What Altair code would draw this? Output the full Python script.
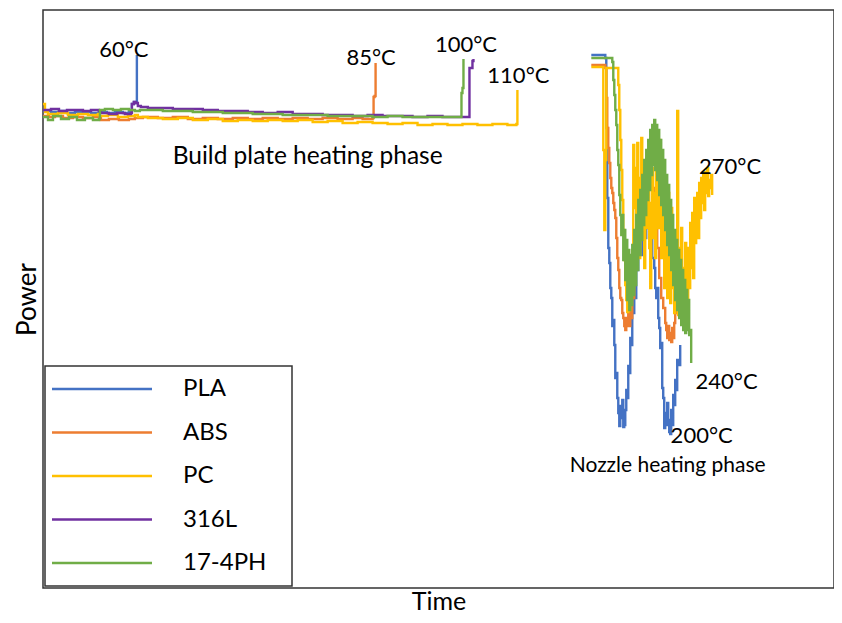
import altair as alt
import pandas as pd

SERIES = ["PLA", "ABS", "PC", "316L", "17-4PH"]
COLORS = ["#4472C4", "#ED7D31", "#FFC000", "#7030A0", "#70AD47"]

# (time, power) readings, build plate phase
PLA_BUILD = [(0, 477), (8, 476), (16, 477), (24, 475), (32, 476), (40, 476), (48, 475), (56, 476),
             (64, 475), (72, 476), (80, 475), (86, 476), (89, 484), (91, 486), (93, 485), (94, 485), (94, 533)]
ABS_BUILD = [(0, 472), (6, 471), (12, 472), (20, 470), (30, 471), (40, 470), (50, 471), (57, 470), (58, 468),
             (66, 469), (76, 468), (86, 469), (92, 470), (100, 471), (115, 470), (130, 471), (145, 469),
             (160, 470), (175, 469), (190, 470), (205, 469), (220, 470), (235, 469), (250, 470), (265, 469),
             (280, 470), (295, 469), (310, 470), (320, 469), (330, 470), (331, 491), (332, 492), (333, 525)]
PC_BUILD = [(0, 484), (2, 476), (5, 474), (15, 475), (25, 473), (35, 474), (45, 473), (55, 474), (57, 472),
            (65, 473), (75, 471), (85, 472), (92, 473), (95, 471), (105, 470), (120, 469), (135, 470),
            (150, 468), (165, 469), (180, 467), (195, 468), (210, 467), (225, 468), (240, 467), (255, 468),
            (270, 466), (285, 467), (300, 465), (315, 466), (330, 465), (345, 464), (360, 465), (375, 463),
            (390, 464), (405, 463), (420, 464), (435, 463), (450, 464), (465, 463), (474, 464), (475, 498)]
S316L_BUILD = [(0, 478), (8, 479), (16, 477), (24, 478), (32, 478), (40, 477), (48, 478), (56, 477), (58, 475),
               (66, 474), (74, 475), (82, 474), (88, 475), (89, 484), (91, 486), (93, 485), (95, 482), (98, 481),
               (105, 480), (115, 480), (130, 479), (145, 479), (160, 478), (175, 477), (190, 477), (205, 476),
               (220, 475), (235, 476), (250, 474), (265, 474), (280, 473), (295, 473), (310, 472), (325, 473),
               (340, 472), (355, 472), (370, 471), (385, 472), (400, 471), (410, 471), (419, 471), (427, 471),
               (427, 520), (430, 527), (431, 529)]
PH_BUILD = [(0, 471), (5, 468), (10, 472), (18, 469), (26, 471), (34, 468), (42, 470), (50, 468), (56, 469),
            (57, 478), (62, 479), (70, 478), (78, 479), (86, 478), (92, 477), (97, 478), (105, 478), (120, 477),
            (135, 477), (150, 476), (165, 476), (180, 475), (195, 475), (210, 474), (225, 474), (240, 473),
            (255, 473), (270, 473), (285, 472), (300, 472), (315, 472), (330, 471), (345, 472), (360, 471),
            (375, 471), (390, 471), (405, 471), (418, 471), (419, 495), (420, 500), (421, 529)]

# (time, power) readings, nozzle phase
PLA_NOZZLE = [(549, 533), (562, 533), (563, 530), (564, 460), (565, 390), (566, 340), (567, 325), (568, 300),
              (569, 290), (570, 262), (571, 268), (572, 243), (573, 210), (574, 215), (575, 190), (576, 175),
              (577, 162), (578, 182), (579, 170), (580, 188), (581, 161), (582, 163), (583, 178), (584, 198),
              (585, 190), (586, 222), (587, 215), (588, 250), (589, 243), (590, 275), (592, 290), (594, 318),
              (596, 338), (598, 333), (600, 356), (602, 350), (604, 366), (606, 360), (608, 348), (610, 330),
              (612, 320), (613, 300), (614, 290), (615, 300), (616, 270), (617, 260), (618, 240), (619, 245),
              (620, 200), (621, 190), (622, 160), (623, 175), (624, 163), (625, 185), (626, 168), (627, 156),
              (628, 154), (629, 178), (630, 163), (631, 193), (632, 183), (633, 208), (634, 198), (635, 228),
              (637, 223), (638, 243)]
ABS_NOZZLE = [(549, 523), (562, 523), (563, 520), (564, 490), (565, 460), (566, 440), (567, 425), (568, 410),
              (569, 400), (570, 395), (571, 385), (572, 378), (573, 370), (574, 350), (575, 330), (576, 318),
              (577, 300), (578, 290), (579, 288), (580, 275), (581, 270), (582, 262), (583, 258), (584, 270),
              (585, 262), (586, 275), (587, 262), (588, 280), (589, 270), (590, 290), (592, 320), (594, 345),
              (597, 370), (600, 395), (604, 410), (608, 400), (612, 370), (615, 340), (617, 310), (619, 290),
              (621, 280), (623, 265), (624, 258), (625, 250), (626, 262), (627, 248), (628, 255), (629, 246),
              (630, 260), (631, 250), (632, 265), (633, 275), (634, 290)]
PC_NOZZLE = [(549, 521), (560, 521), (561, 438), (562, 358), (563, 428), (564, 520), (575, 520), (576, 503),
             (577, 478), (578, 448), (579, 418), (580, 388), (581, 358), (582, 328), (583, 303), (584, 288),
             (585, 276), (586, 293), (587, 278), (588, 308), (589, 293), (590, 338), (591, 443), (592, 380),
             (593, 420), (594, 352), (595, 445), (596, 400), (597, 330), (598, 410), (599, 450), (600, 372),
             (601, 420), (602, 320), (603, 395), (604, 430), (605, 360), (606, 405), (607, 340), (608, 300),
             (609, 385), (610, 420), (611, 350), (612, 395), (613, 330), (614, 420), (615, 440), (616, 360),
             (617, 448), (618, 400), (619, 330), (620, 425), (621, 380), (622, 300), (623, 410), (624, 350),
             (625, 290), (626, 395), (627, 330), (628, 285), (629, 380), (630, 300), (631, 350), (632, 275),
             (633, 330), (634, 280), (635, 477), (636, 273), (637, 340), (638, 290), (639, 360), (640, 271),
             (641, 320), (642, 276), (643, 345), (644, 300), (645, 280), (646, 340), (647, 300), (648, 365),
             (649, 320), (650, 375), (651, 310), (652, 390), (653, 345), (654, 380), (655, 395), (656, 350),
             (657, 405), (658, 370), (659, 410), (660, 385), (661, 415), (662, 378), (663, 416), (664, 395),
             (665, 420), (666, 392), (667, 408), (668, 400), (669, 413), (670, 393)]
PH_NOZZLE = [(549, 530), (569, 530), (570, 526), (571, 508), (572, 493), (573, 478), (574, 463), (575, 438),
             (576, 423), (577, 393), (578, 373), (579, 353), (580, 373), (581, 328), (582, 358), (583, 308),
             (584, 348), (585, 288), (586, 338), (587, 278), (588, 333), (589, 283), (590, 343), (591, 293),
             (592, 358), (593, 303), (594, 373), (595, 318), (596, 388), (597, 333), (598, 398), (599, 348),
             (600, 413), (601, 363), (602, 428), (603, 373), (604, 438), (605, 388), (606, 448), (607, 398),
             (608, 458), (609, 413), (610, 463), (611, 423), (612, 468), (613, 418), (614, 463), (615, 408),
             (616, 458), (617, 393), (618, 448), (619, 383), (620, 438), (621, 373), (622, 428), (623, 358),
             (624, 413), (625, 343), (626, 403), (627, 333), (628, 388), (629, 318), (630, 373), (631, 303),
             (632, 358), (633, 288), (634, 348), (635, 278), (636, 338), (637, 270), (638, 328), (639, 263),
             (640, 318), (641, 258), (642, 308), (643, 255), (644, 298), (645, 258), (646, 288), (647, 253),
             (648, 258), (649, 225)]

SEGMENTS = {
    "PLA": [PLA_BUILD, PLA_NOZZLE],
    "ABS": [ABS_BUILD, ABS_NOZZLE],
    "PC": [PC_BUILD, PC_NOZZLE],
    "316L": [S316L_BUILD],
    "17-4PH": [PH_BUILD, PH_NOZZLE],
}

ANN_LABELS = ["60°C", "85°C", "100°C", "110°C", "Build plate heating phase",
              "270°C", "240°C", "200°C", "Nozzle heating phase"]
ANN_TIME = [81, 328.5, 423.5, 476, 265, 688, 684.5, 659.5, 625.5]
ANN_POWER = [538, 530.5, 543.5, 512.5, 431, 421, 206, 152, 122]
ANN_SIZE = [22, 22, 22, 22, 24.5, 22, 22, 22, 21]

rows = []
for s in SERIES:
    for k, seg in enumerate(SEGMENTS[s]):
        for i, (t, p) in enumerate(seg):
            rows.append({"series": s, "seg": f"{s}-{k}", "i": i, "time": t, "power": p})
df = pd.DataFrame(rows)
ann = pd.DataFrame({"label": ANN_LABELS, "time": ANN_TIME, "power": ANN_POWER, "size": ANN_SIZE})

FONT = "Lato"

x_enc = alt.X("time:Q", scale=alt.Scale(domain=[0, 792], nice=False, zero=False),
              axis=alt.Axis(title="Time", labels=False, ticks=False, domain=False, grid=False,
                            titleFont=FONT, titleFontSize=25, titleFontWeight="normal",
                            titleColor="#000000", titlePadding=1))
y_enc = alt.Y("power:Q", scale=alt.Scale(domain=[0, 578], nice=False, zero=False),
              axis=alt.Axis(title="Power", labels=False, ticks=False, domain=False, grid=False,
                            titleFont=FONT, titleFontSize=26, titleFontWeight="normal",
                            titleColor="#000000", titlePadding=3))

# symbol: a 100px stroke; the trailing move widens the legend frame to the reference's width
legend = alt.Legend(title=None, orient="none", legendX=2, legendY=356,
                    symbolType="M-2,0H8M20.4,0", symbolSize=400, symbolStrokeWidth=2.5, symbolOffset=4,
                    labelOffset=99, labelFont=FONT, labelFontSize=24, labelColor="#000000",
                    rowPadding=19.5, padding=11, strokeColor="#333333", fillColor="white")

color_enc = alt.Color("series:N", scale=alt.Scale(domain=SERIES, range=COLORS), legend=legend)

layers = []
for s in SERIES:
    layers.append(
        alt.Chart(df[df["series"] == s]).mark_line(strokeWidth=2.4, interpolate="step-after").encode(
            x=x_enc, y=y_enc, color=color_enc, detail="seg:N", order="i:Q"
        )
    )

text = alt.Chart(ann).mark_text(font=FONT, color="#000000", align="center",
                                baseline="middle").encode(
    x=alt.X("time:Q"), y=alt.Y("power:Q"), text="label:N",
    size=alt.Size("size:Q", scale=None, legend=None)
)

chart = alt.layer(*layers, text).properties(
    width=791, height=578,
    padding={"left": 35, "top": 2, "right": 0, "bottom": 27},
    autosize=alt.AutoSizeParams(type="none"),
).configure_view(stroke="#333333", strokeWidth=1.5).configure_legend(strokeWidth=1.5)

chart.save("out.html", embed_options={"renderer": "svg", "actions": False})
